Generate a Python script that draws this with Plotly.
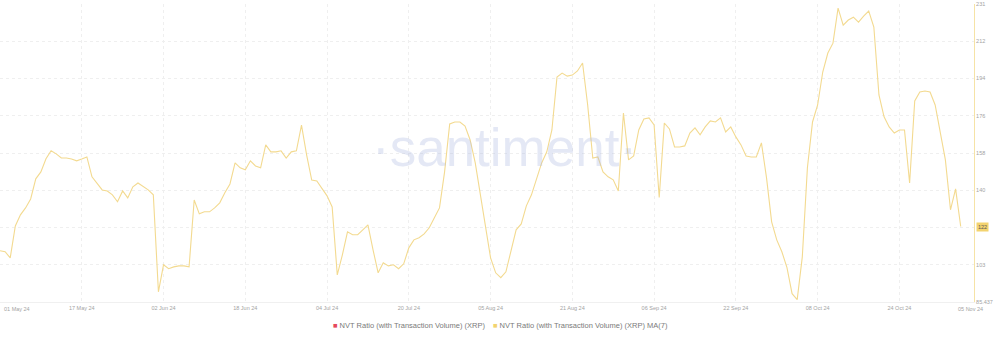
import pandas as pd
import plotly.graph_objects as go

# ---- data ----
start_date = "2024-05-01"
nvt_ma7 = [
    110.5, 110.0, 107.0, 122.6, 128.0, 131.4, 135.8, 145.6, 149.0, 155.4,
    159.3, 157.8, 155.8, 155.8, 155.3, 154.4, 155.3, 156.3, 146.6, 143.6,
    140.2, 139.7, 137.8, 134.4, 139.7, 136.3, 141.7, 143.6, 141.7, 140.2,
    137.8, 90.4, 103.6, 101.7, 102.6, 103.1, 103.1, 102.6, 135.3, 128.5,
    129.5, 129.5, 131.4, 133.9, 138.8, 143.1, 153.4, 151.0, 150.0, 154.4,
    151.9, 151.0, 162.2, 158.8, 158.8, 159.3, 155.8, 158.8, 159.3, 171.9,
    157.3, 145.0, 144.6, 141.2, 137.3, 131.9, 98.7, 108.5, 119.7, 118.3,
    118.3, 120.7, 123.1, 110.9, 99.7, 104.6, 103.1, 103.6, 101.7, 104.1,
    111.9, 115.8, 116.8, 118.7, 121.7, 126.6, 131.4, 149.0, 172.4, 173.4,
    173.4, 171.4, 164.6, 153.4, 137.3, 122.6, 107.0, 99.7, 97.3, 100.2,
    110.0, 120.7, 123.6, 132.4, 137.8, 146.1, 153.4, 158.8, 169.5, 195.4,
    197.3, 195.8, 196.3, 198.3, 202.2, 181.7, 155.8, 156.3, 149.0, 146.6,
    145.1, 139.7, 177.8, 154.9, 156.8, 169.5, 174.9, 175.4, 171.9, 136.5,
    172.9, 170.0, 161.2, 161.2, 161.7, 168.0, 170.5, 167.1, 171.0, 173.9,
    173.4, 175.4, 168.5, 171.0, 166.1, 162.2, 156.8, 156.3, 156.3, 163.2,
    146.1, 124.6, 115.8, 110.0, 102.2, 89.5, 86.6, 107.5, 151.0, 173.4,
    181.7, 197.8, 207.1, 211.9, 229.0, 220.7, 223.2, 224.6, 222.2, 225.1,
    227.6, 219.8, 186.6, 175.9, 171.0, 168.0, 169.5, 169.5, 143.6, 183.7,
    188.0, 188.5, 188.0, 181.7, 168.5, 154.9, 130.5, 140.7, 122.3,
]
dates = pd.date_range(start_date, periods=len(nvt_ma7), freq="D")

x_tick_dates = ["2024-05-01", "2024-05-17", "2024-06-02", "2024-06-18", "2024-07-04",
                "2024-07-20", "2024-08-05", "2024-08-21", "2024-09-06", "2024-09-22",
                "2024-10-08", "2024-10-24"]
x_tick_labels = ["", "17 May 24", "02 Jun 24", "18 Jun 24", "04 Jul 24", "20 Jul 24",
                 "05 Aug 24", "21 Aug 24", "06 Sep 24", "22 Sep 24", "08 Oct 24", "24 Oct 24"]
first_date_label = "01 May 24"
last_date_label = "05 Nov 24"

y_min = 85.437
y_step = 18.2
y_tick_vals = [y_min + y_step * k for k in range(9)]
y_tick_labels = ["85.437", "103", "", "140", "158", "176", "194", "212", "231"]
last_value_label = "122"

series_names = ["NVT Ratio (with Transaction Volume) (XRP)",
                "NVT Ratio (with Transaction Volume) (XRP) MA(7)"]
series_colors = ["#e5485c", "#f2d36e"]

# ---- figure ----
W, H = 1000, 339
ml, mr, mt, mb = 0, 26, 4, 37
pw = W - ml - mr
ph = H - mt - mb

fig = go.Figure()
fig.add_trace(go.Scatter(
    x=dates, y=nvt_ma7, mode="lines",
    line=dict(color="#f3da90", width=1.1),
    name=series_names[1], showlegend=False, hoverinfo="x+y",
))

tick_font = dict(family="Liberation Sans, Arial, sans-serif", size=5.5, color="#a3a3a3")

fig.update_layout(
    width=W, height=H,
    margin=dict(l=ml, r=mr, t=mt, b=mb),
    paper_bgcolor="white", plot_bgcolor="white",
    showlegend=False,
    xaxis=dict(
        range=["2024-05-01", "2024-11-07 14:24"],
        tickmode="array", tickvals=x_tick_dates, ticktext=x_tick_labels,
        showgrid=True, gridcolor="#efefef", griddash="3px,3px", gridwidth=1,
        showline=True, linecolor="#f0f0f0", linewidth=1,
        ticks="", tickfont=tick_font, zeroline=False,
    ),
    yaxis=dict(
        range=[y_min, y_min + 8 * y_step],
        side="right",
        tickmode="array", tickvals=y_tick_vals, ticktext=y_tick_labels,
        showgrid=True, gridcolor="#efefef", griddash="3px,3px", gridwidth=1,
        showline=True, linecolor="#f6e3a6", linewidth=1,
        ticks="", tickfont=tick_font, zeroline=False,
    ),
)

annotations = [
    # watermark
    dict(text="·santiment·", x=504 / pw, y=(302 - 147) / ph, xref="paper", yref="paper",
         showarrow=False, xanchor="center", yanchor="middle",
         font=dict(family="Liberation Sans, Arial, sans-serif", size=53,
                   color="rgba(172,182,224,0.32)")),
    # first date label (shifted to fit)
    dict(text=first_date_label, x=0, y=0, xref="paper", yref="paper",
         xanchor="left", yanchor="top", yshift=-2, xshift=2, showarrow=False,
         font=tick_font),
    # last date label
    dict(text=last_date_label, x=dates[-1], y=0, xref="x", yref="paper",
         xanchor="center", yanchor="top", yshift=-2, xshift=10, showarrow=False,
         font=tick_font),
    # last value highlight
    dict(text=last_value_label, x=1, y=nvt_ma7[-1], xref="paper", yref="y",
         xanchor="left", yanchor="middle", xshift=2, showarrow=False,
         bgcolor="#f3d36f", borderpad=1,
         font=dict(family="Liberation Sans, Arial, sans-serif", size=5.5, color="#5a5a5a")),
    # legend
    dict(text=f"<span style='color:{series_colors[0]}'>■</span> {series_names[0]}",
         x=331 / pw, y=(302 - 325) / ph, xref="paper", yref="paper",
         xanchor="left", yanchor="middle", showarrow=False,
         font=dict(family="Liberation Sans, Arial, sans-serif", size=7.5, color="#7a7a7a")),
    dict(text=f"<span style='color:{series_colors[1]}'>■</span> {series_names[1]}",
         x=491 / pw, y=(302 - 325) / ph, xref="paper", yref="paper",
         xanchor="left", yanchor="middle", showarrow=False,
         font=dict(family="Liberation Sans, Arial, sans-serif", size=7.5, color="#7a7a7a")),
]
fig.update_layout(annotations=annotations)

fig.write_html("out.html")
